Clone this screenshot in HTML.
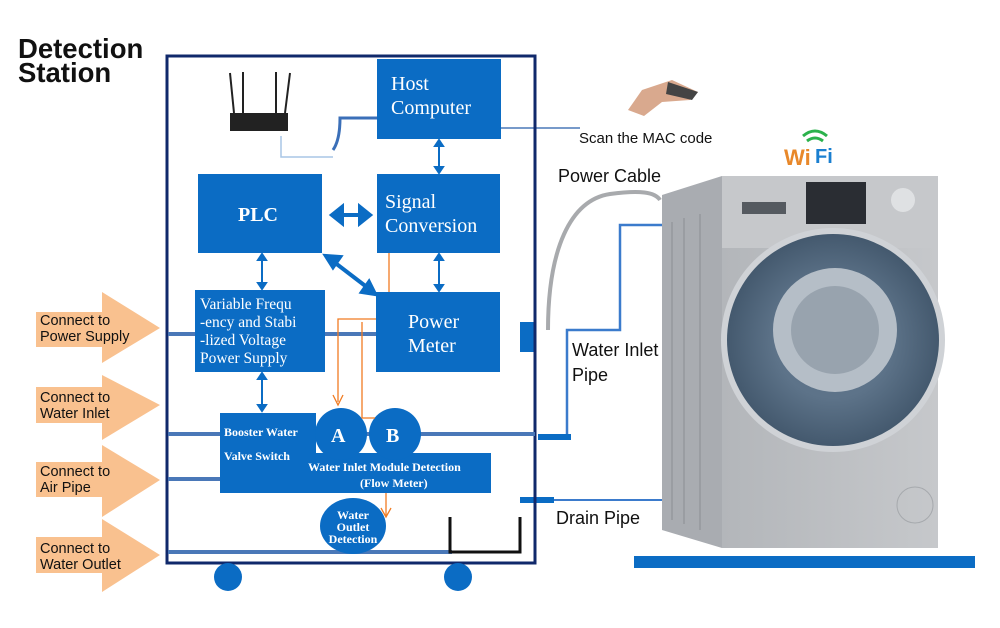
<!DOCTYPE html>
<html><head><meta charset="utf-8"><style>
html,body{margin:0;padding:0;background:#fff}
svg{display:block}
.s{font-family:"Liberation Serif",serif;fill:#fff}
.a{font-family:"Liberation Sans",sans-serif}
</style></head><body>
<svg width="1000" height="628" viewBox="0 0 1000 628" xmlns="http://www.w3.org/2000/svg">
<defs>
<linearGradient id="mg" x1="0" x2="1"><stop offset="0" stop-color="#b3b6ba"/><stop offset="1" stop-color="#c6c8cb"/></linearGradient>
<radialGradient id="dg"><stop offset="0.55" stop-color="#5d7389"/><stop offset="1" stop-color="#44596e"/></radialGradient>
</defs>
<!-- left arrows -->
<g fill="#f9c18f">
<polygon points="36,312 102,312 102,292 160,328 102,363 102,347 36,347"/>
<polygon points="36,387 102,387 102,375 160,405 102,440 102,423 36,423"/>
<polygon points="36,462 102,462 102,445 160,480 102,517 102,497 36,497"/>
<polygon points="36,537 102,537 102,519 160,555 102,592 102,573 36,573"/>
</g>
<g class="a" font-size="14.5" fill="#111">
<text x="40" y="325">Connect to</text><text x="40" y="341">Power Supply</text>
<text x="40" y="402">Connect to</text><text x="40" y="418">Water Inlet</text>
<text x="40" y="476">Connect to</text><text x="40" y="492">Air Pipe</text>
<text x="40" y="553">Connect to</text><text x="40" y="569">Water Outlet</text>
</g>
<text class="a" x="18" y="58" font-size="27.5" font-weight="bold" fill="#111">Detection</text>
<text class="a" x="18" y="82" font-size="27.5" font-weight="bold" fill="#111">Station</text>

<!-- washing machine -->
<polygon points="662,195 722,176 722,548 662,530" fill="#a9acb1"/>
<rect x="722" y="176" width="216" height="372" fill="url(#mg)"/>
<rect x="722" y="176" width="216" height="72" fill="#c6c8cb"/>
<rect x="806" y="182" width="60" height="42" fill="#2a2d33"/>
<circle cx="903" cy="200" r="12" fill="#dfe1e3"/>
<rect x="742" y="202" width="44" height="12" fill="#555a60"/>
<g stroke="#9a9da2" stroke-width="2" fill="none"><path d="M672 222 V520 M684 218 V524 M700 214 V530"/></g>
<circle cx="833" cy="340" r="112" fill="#cfd2d6"/>
<circle cx="833" cy="340" r="106" fill="url(#dg)"/>
<circle cx="835" cy="330" r="62" fill="#b5bec7"/>
<circle cx="835" cy="330" r="44" fill="#98a3ae"/>
<circle cx="915" cy="505" r="18" fill="none" stroke="#a6a9ad"/>
<rect x="634" y="556" width="341" height="12" fill="#0b6cc4"/>
<!-- wifi -->
<text x="784" y="165" font-family="Liberation Sans,sans-serif" font-weight="bold" font-size="22" fill="#e8882a">Wi</text>
<text x="815" y="163" font-family="Liberation Sans,sans-serif" font-weight="bold" font-size="20" fill="#1a7fd0">Fi</text>
<path d="M803 136 q12 -10 24 0 M807 141 q8 -6 16 0" stroke="#2bb24c" stroke-width="3" fill="none"/>
<!-- scanner -->
<path d="M628 110 l14 -20 l30 -10 l26 12 l-8 8 l-28 2 l-18 14z" fill="#d9a98e"/>
<path d="M668 82 l30 10 l-6 8 l-26 -6z" fill="#444"/>

<text class="a" x="579" y="143" font-size="15" fill="#111">Scan the MAC code</text>
<text class="a" x="558" y="182" font-size="18" fill="#111">Power Cable</text>
<text class="a" x="572" y="356" font-size="18" fill="#111">Water Inlet</text>
<text class="a" x="572" y="381" font-size="18" fill="#111">Pipe</text>
<text class="a" x="556" y="524" font-size="18" fill="#111">Drain Pipe</text>

<!-- pipes outside -->
<path d="M548 330 C548 250 570 200 610 194 C640 190 655 192 660 200" stroke="#a8aaad" stroke-width="4" fill="none"/>
<path d="M538 437 H567 V330 H620 V225 H662" stroke="#3b7bcc" stroke-width="2.5" fill="none"/>
<line x1="538" y1="437" x2="571" y2="437" stroke="#0b6cc4" stroke-width="6"/>
<path d="M520 500 H662" stroke="#3b7bcc" stroke-width="2" fill="none"/>
<line x1="520" y1="500" x2="554" y2="500" stroke="#0b6cc4" stroke-width="6"/>
<rect x="520" y="322" width="14" height="30" fill="#0b6cc4"/>
<line x1="501" y1="128" x2="580" y2="128" stroke="#4a78b8" stroke-width="1.5"/>

<!-- frame -->
<rect x="167" y="56" width="368" height="507" fill="none" stroke="#10296b" stroke-width="3"/>
<circle cx="228" cy="577" r="14" fill="#0b6cc4"/>
<circle cx="458" cy="577" r="14" fill="#0b6cc4"/>

<!-- inner pipes -->
<g stroke="#4a78b8" stroke-width="4">
<line x1="168" y1="334" x2="376" y2="334"/>
<line x1="168" y1="434" x2="535" y2="434"/>
<line x1="168" y1="479" x2="220" y2="479"/>
<line x1="168" y1="552" x2="452" y2="552"/>
</g>
<path d="M450 517 V552 H520 V517" stroke="#111" stroke-width="3" fill="none"/>

<!-- router -->
<rect x="230" y="113" width="58" height="18" fill="#222"/>
<g stroke="#222" stroke-width="2"><line x1="234" y1="113" x2="230" y2="73"/><line x1="243" y1="113" x2="243" y2="72"/><line x1="276" y1="113" x2="276" y2="72"/><line x1="285" y1="113" x2="290" y2="73"/></g>
<path d="M281 136 V157 H333" stroke="#a9c6e6" stroke-width="1.5" fill="none"/>
<path d="M333 150 Q340 140 340 118 H377" stroke="#3b6fb8" stroke-width="3" fill="none"/>

<!-- boxes -->
<g fill="#0b6cc4">
<rect x="377" y="59" width="124" height="80"/>
<rect x="198" y="174" width="124" height="79"/>
<rect x="377" y="174" width="123" height="79"/>
<rect x="195" y="290" width="130" height="82"/>
<rect x="376" y="292" width="124" height="80"/>
<rect x="220" y="413" width="96" height="80"/>
<rect x="220" y="453" width="271" height="40"/>
<circle cx="341" cy="434" r="26"/>
<circle cx="395" cy="434" r="26"/>
<ellipse cx="353" cy="526" rx="33" ry="28"/>
</g>

<!-- blue arrows -->
<g stroke="#0b6cc4" stroke-width="2" fill="#0b6cc4">
<line x1="439" y1="143" x2="439" y2="170"/><polygon points="435,146 443,146 439,140"/><polygon points="435,167 443,167 439,173"/>
<line x1="439" y1="257" x2="439" y2="288"/><polygon points="435,260 443,260 439,254"/><polygon points="435,285 443,285 439,291"/>
<line x1="262" y1="257" x2="262" y2="286"/><polygon points="258,260 266,260 262,254"/><polygon points="258,283 266,283 262,289"/>
<line x1="262" y1="376" x2="262" y2="408"/><polygon points="258,379 266,379 262,373"/><polygon points="258,405 266,405 262,411"/>
</g>
<g stroke="#0b6cc4" stroke-width="4" fill="#0b6cc4">
<line x1="340" y1="215" x2="361" y2="215"/><polygon points="332,215 342,207 342,223"/><polygon points="370,215 360,207 360,223"/>
<line x1="334" y1="262" x2="368" y2="288"/><polygon points="326,256 340,257 333,267"/><polygon points="375,294 362,292 369,282"/>
</g>
<!-- orange -->
<g stroke="#f07b22" stroke-width="1.3" fill="none">
<line x1="389" y1="253" x2="389" y2="292"/>
<path d="M376 319 H338 V402"/><path d="M333 395 L338 405 L343 395"/>
<path d="M362 322 V418 H375"/>
<path d="M386 493 V516"/><path d="M381 508 L386 517 L391 508"/>
</g>

<!-- labels -->
<g class="s">
<text x="391" y="90" font-size="20">Host</text>
<text x="391" y="114" font-size="20">Computer</text>
<text x="238" y="221" font-size="20" font-weight="bold">PLC</text>
<text x="385" y="208" font-size="20">Signal</text>
<text x="385" y="232" font-size="20">Conversion</text>
<text x="200" y="309" font-size="15.5">Variable Frequ</text>
<text x="200" y="327" font-size="15.5">-ency and Stabi</text>
<text x="200" y="345" font-size="15.5">-lized Voltage</text>
<text x="200" y="363" font-size="15.5">Power Supply</text>
<text x="408" y="328" font-size="20">Power</text>
<text x="408" y="352" font-size="20">Meter</text>
<text x="224" y="436" font-size="12" font-weight="bold">Booster Water</text>
<text x="224" y="460" font-size="12" font-weight="bold">Valve Switch</text>
<text x="331" y="442" font-size="20" font-weight="bold">A</text>
<text x="386" y="442" font-size="20" font-weight="bold">B</text>
<text x="308" y="471" font-size="12" font-weight="bold">Water Inlet Module Detection</text>
<text x="360" y="487" font-size="12" font-weight="bold">(Flow Meter)</text>
<text x="353" y="519" font-size="12" font-weight="bold" text-anchor="middle">Water</text>
<text x="353" y="531" font-size="12" font-weight="bold" text-anchor="middle">Outlet</text>
<text x="353" y="543" font-size="12" font-weight="bold" text-anchor="middle">Detection</text>
</g>
</svg>
</body></html>
